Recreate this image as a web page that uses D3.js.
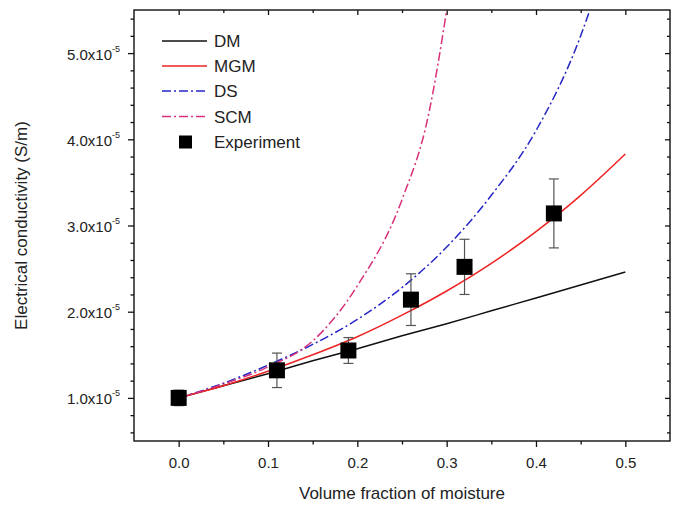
<!DOCTYPE html>
<html><head><meta charset="utf-8">
<script src="https://cdn.jsdelivr.net/npm/d3@7"></script>
<style>body{margin:0;background:#fff}svg{display:block}text{font-family:"Liberation Sans",Arial,sans-serif;fill:#222}</style>
</head><body><svg id="c" width="678" height="506"></svg>
<script>
// ---- data (values in units of 1e-5 S/m) ----
const modelX = [0, 0.05, 0.1, 0.15, 0.2, 0.25, 0.3, 0.35, 0.4, 0.45, 0.5];
const dmY  = [1.0, 1.14, 1.28, 1.43, 1.57, 1.72, 1.86, 2.01, 2.16, 2.31, 2.46];
const mgmY = [1.0, 1.14, 1.31, 1.50, 1.71, 1.96, 2.24, 2.56, 2.93, 3.35, 3.83];
const dsX  = [0, 0.05, 0.1, 0.15, 0.2, 0.25, 0.3, 0.35, 0.4, 0.45, 0.47];
const dsY  = [1.0, 1.17, 1.38, 1.62, 1.91, 2.28, 2.75, 3.35, 4.1, 5.2, 5.8];
const scmX = [0, 0.05, 0.1, 0.15, 0.2, 0.25, 0.28, 0.3, 0.31];
const scmY = [1.0, 1.16, 1.36, 1.66, 2.3, 3.3, 4.3, 5.5, 6.2];
const expX   = [0, 0.11, 0.19, 0.26, 0.32, 0.42];
const expY   = [1.0, 1.32, 1.55, 2.14, 2.52, 3.14];
const expErr = [0.09, 0.2, 0.15, 0.3, 0.32, 0.4];
const xTicks = [0, 0.1, 0.2, 0.3, 0.4, 0.5];
const yTicks = [1, 2, 3, 4, 5];
const legendNames = ["DM", "MGM", "DS", "SCM", "Experiment"];

const svg = d3.select("#c");
const L = 134, R = 670, T = 10, B = 441;
const x = d3.scaleLinear().domain([-0.05, 0.55]).range([L, R]);
const y = d3.scaleLinear().domain([0.5, 5.5]).range([B, T]);

const xMinor = d3.range(0.05, 0.5, 0.1);
const yMinor = d3.range(0.6, 5.45, 0.2).filter(v => Math.abs(v - Math.round(v)) > 0.01);

function styleAxis(g){ g.select(".domain").remove(); g.selectAll("line").attr("stroke","#111").attr("stroke-width",1.3); }

// bottom
svg.append("g").attr("transform",`translate(0,${B})`)
  .call(d3.axisBottom(x).tickValues(xTicks).tickSize(6).tickPadding(10).tickFormat(d3.format(".1f")))
  .call(styleAxis).call(g=>g.selectAll("text").attr("font-size",15).attr("fill","#222").attr("font-family","Liberation Sans, Arial"));
svg.append("g").attr("transform",`translate(0,${B})`)
  .call(d3.axisBottom(x).tickValues(xMinor).tickSize(3.5).tickFormat("")).call(styleAxis);
// top (inward)
svg.append("g").attr("transform",`translate(0,${T})`)
  .call(d3.axisBottom(x).tickValues(xTicks).tickSize(5).tickFormat("")).call(styleAxis);
svg.append("g").attr("transform",`translate(0,${T})`)
  .call(d3.axisBottom(x).tickValues(xMinor).tickSize(3).tickFormat("")).call(styleAxis);
// left
const yl = svg.append("g").attr("transform",`translate(${L},0)`)
  .call(d3.axisLeft(y).tickValues(yTicks).tickSize(6).tickPadding(8).tickFormat(""))
  .call(styleAxis);
yl.selectAll(".tick text").each(function(d){
  const t = d3.select(this).attr("font-size",15).attr("fill","#222").attr("font-family","Liberation Sans, Arial").attr("dy","0.4em");
  t.append("tspan").text(d3.format(".1f")(d) + "x10");
  t.append("tspan").attr("font-size",9).attr("dy","-0.9em").text("-5");
});
svg.append("g").attr("transform",`translate(${L},0)`)
  .call(d3.axisLeft(y).tickValues(yMinor).tickSize(3.5).tickFormat("")).call(styleAxis);
// right (inward)
svg.append("g").attr("transform",`translate(${R},0)`)
  .call(d3.axisLeft(y).tickValues(yTicks).tickSize(5).tickFormat("")).call(styleAxis);
svg.append("g").attr("transform",`translate(${R},0)`)
  .call(d3.axisLeft(y).tickValues(yMinor).tickSize(3).tickFormat("")).call(styleAxis);

// frame
svg.append("rect").attr("x",L).attr("y",T).attr("width",R-L).attr("height",B-T)
  .attr("fill","none").attr("stroke","#111").attr("stroke-width",1.4);

// clip
svg.append("clipPath").attr("id","clip").append("rect").attr("x",L).attr("y",T).attr("width",R-L).attr("height",B-T);
const plot = svg.append("g").attr("clip-path","url(#clip)");

const line = d3.line().x(d=>x(d[0])).y(d=>y(d[1])).curve(d3.curveMonotoneX);
const series = [
  {xs: modelX, ys: dmY,  color:"#111111", dash:null},
  {xs: modelX, ys: mgmY, color:"#ee2222", dash:null},
  {xs: dsX,    ys: dsY,  color:"#2626c8", dash:"9,3,2,3"},
  {xs: scmX,   ys: scmY, color:"#d8307a", dash:"9,3,2,3"}
];
series.forEach(s=>{
  plot.append("path").datum(s.xs.map((v,i)=>[v,s.ys[i]])).attr("d",line)
    .attr("fill","none").attr("stroke",s.color).attr("stroke-width",1.5)
    .attr("stroke-dasharray",s.dash);
});

// experiment error bars + squares
const eg = svg.append("g");
expX.forEach((v,i)=>{
  const cx = x(v), y1 = y(expY[i]+expErr[i]), y0 = y(expY[i]-expErr[i]);
  eg.append("line").attr("x1",cx).attr("x2",cx).attr("y1",y1).attr("y2",y0).attr("stroke","#555").attr("stroke-width",1.2);
  [y1,y0].forEach(yy=>eg.append("line").attr("x1",cx-5).attr("x2",cx+5).attr("y1",yy).attr("y2",yy).attr("stroke","#555").attr("stroke-width",1.2));
  eg.append("rect").attr("x",cx-8).attr("y",y(expY[i])-8).attr("width",16).attr("height",16).attr("fill","#000");
});

// axis titles
svg.append("text").attr("x",(L+R)/2).attr("y",499).attr("text-anchor","middle").attr("font-size",17).text("Volume fraction of moisture");
svg.append("text").attr("transform",`translate(27,${(T+B)/2}) rotate(-90)`).attr("text-anchor","middle").attr("font-size",17).text("Electrical conductivity (S/m)");

// legend
const lg = svg.append("g");
const ly = [41, 66, 91, 116.5, 142];
legendNames.forEach((n,i)=>{
  if(i<4){
    lg.append("line").attr("x1",162).attr("x2",207).attr("y1",ly[i]).attr("y2",ly[i])
      .attr("stroke",series[i].color).attr("stroke-width",1.5).attr("stroke-dasharray",series[i].dash);
  } else {
    lg.append("rect").attr("x",179).attr("y",ly[i]-6.5).attr("width",13).attr("height",13).attr("fill","#000");
  }
  lg.append("text").attr("x",214).attr("y",ly[i]).attr("dy","0.36em").attr("font-size",17).text(n);
});
</script></body></html>
